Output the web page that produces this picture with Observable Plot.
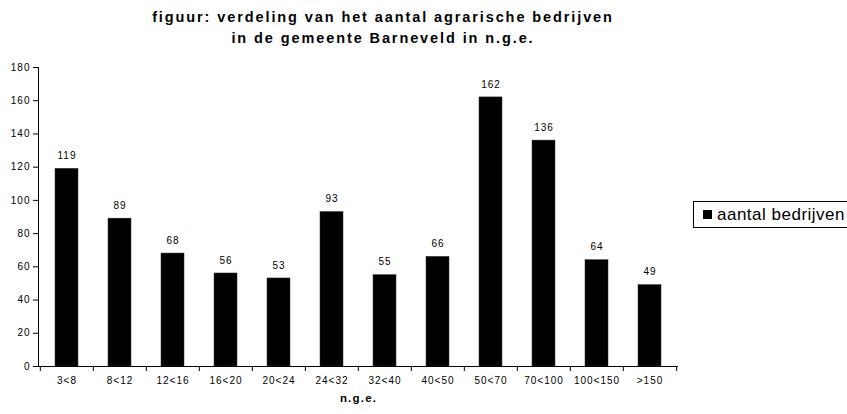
<!DOCTYPE html>
<html>
<head>
<meta charset="utf-8">
<script src="https://cdn.jsdelivr.net/npm/d3@7"></script>
<script src="https://cdn.jsdelivr.net/npm/@observablehq/plot@0.6"></script>
<style>
  html, body { margin: 0; padding: 0; background: #fff; }
  #wrap { position: relative; width: 847px; height: 414px; overflow: hidden; font-family: "Liberation Sans", Arial, sans-serif; }
  #title { position: absolute; left: 0; top: 7px; width: 766px; text-align: center; font-weight: bold; font-size: 14.5px; line-height: 21px; letter-spacing: 1.9px; color: #000; white-space: nowrap; }
  #legend { position: absolute; left: 693px; top: 201px; width: 170px; height: 27px; border: 1px solid #000; box-sizing: border-box; display: flex; align-items: center; font-size: 17px; letter-spacing: 0.5px; color: #000; }
  #legend .sw { width: 9px; height: 9px; background: #000; margin-left: 9px; margin-right: 5px; }
  #chart { position: absolute; left: 0; top: 55px; }
  #chart svg text { letter-spacing: 1px; font-size: 10px; }
  #chart svg g[font-weight="bold"] text { font-size: 11.5px; letter-spacing: 1.2px; }
</style>
</head>
<body>
<div id="wrap">
  <div id="title">figuur: verdeling van het aantal agrarische bedrijven<br>in de gemeente Barneveld in n.g.e.</div>
  <div id="chart"></div>
  <div id="legend"><div class="sw"></div><span>aantal bedrijven</span></div>
</div>
<script>
const categories = ["3<8", "8<12", "12<16", "16<20", "20<24", "24<32", "32<40", "40<50", "50<70", "70<100", "100<150", ">150"];
const values = [119, 89, 68, 56, 53, 93, 55, 66, 162, 136, 64, 49];
const yTicks = [0, 20, 40, 60, 80, 100, 120, 140, 160, 180];
const seriesName = "aantal bedrijven";
const xLabel = "n.g.e.";

const data = categories.map((c, i) => ({cat: c, value: values[i]}));

const W = 847, H = 359;
const mL = 38, mR = 169, mT = 12, mB = 48;
const step = (W - mL - mR) / categories.length;

const chart = Plot.plot({
  width: W,
  height: H,
  marginLeft: mL,
  marginRight: mR,
  marginTop: mT,
  marginBottom: mB,
  style: {fontFamily: "Liberation Sans, Arial, sans-serif", fontSize: "10px", color: "#000", background: "#fff", overflow: "visible"},
  x: {domain: categories, paddingInner: 0.57, paddingOuter: 0.285, label: null},
  y: {domain: [0, 180], label: null},
  marks: [
    Plot.barY(data, {x: "cat", y: "value", fill: "#000", stroke: "#333", strokeWidth: 0.5}),
    Plot.text(data, {x: "cat", y: "value", text: d => String(d.value), dy: -13, fill: "#000"}),
    Plot.axisY({ticks: yTicks, tickSize: 5, tickPadding: 3, label: null, tickFormat: d => String(d)}),
    Plot.axisX({tickSize: 0, tickPadding: 10, label: null}),
    Plot.axisX({tickSize: 5, tickFormat: () => "", label: null, dx: -step / 2}),
    Plot.axisX([categories[categories.length - 1]], {tickSize: 5, tickFormat: () => "", label: null, dx: step / 2}),
    Plot.frame({anchor: "left", stroke: "#000"}),
    Plot.ruleY([0], {stroke: "#000"}),
    Plot.text([xLabel], {frameAnchor: "bottom", dy: 35, fontWeight: "bold", fill: "#000"})
  ]
});
document.getElementById("chart").appendChild(chart);
</script>
</body>
</html>
